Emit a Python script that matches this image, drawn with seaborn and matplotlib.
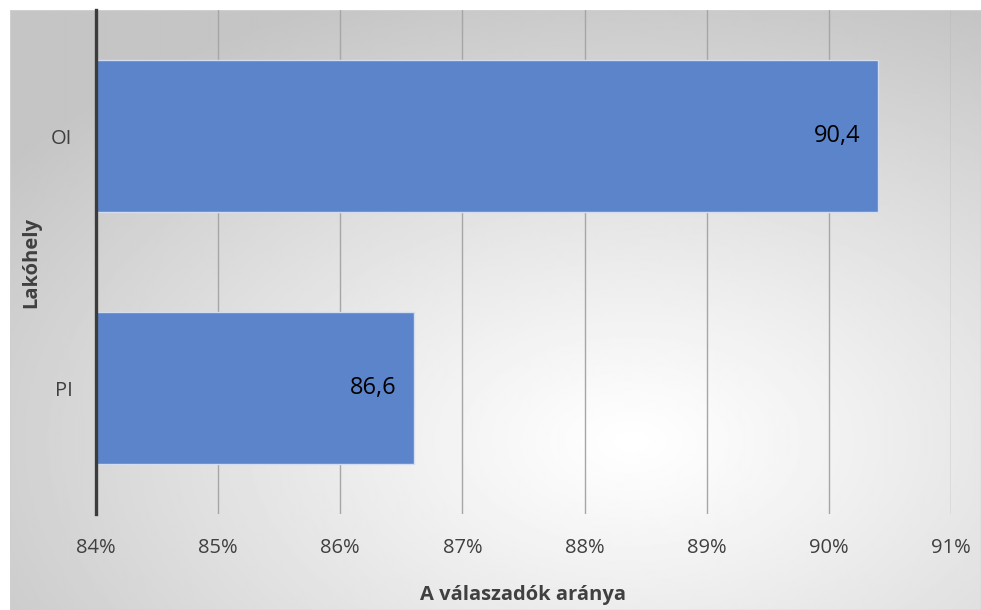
import numpy as np
import matplotlib
matplotlib.use('Agg')
import matplotlib.pyplot as plt
import seaborn as sns
import pandas as pd
from matplotlib.patches import Rectangle

categories = ['OI', 'PI']
values = [90.4, 86.6]
value_labels = ['90,4', '86,6']
xticks = [84, 85, 86, 87, 88, 89, 90, 91]
xtick_labels = ['84%', '85%', '86%', '87%', '88%', '89%', '90%', '91%']
x_title = 'A válaszadók aránya'
y_title = 'Lakóhely'

sns.set_theme(style='white')
plt.rcParams['font.family'] = ['Open Sans', 'DejaVu Sans']

W, H = 981, 610
fig = plt.figure(figsize=(W / 100, H / 100), dpi=100)
fig.patch.set_facecolor('white')

# gradient background
bg = fig.add_axes([10 / W, 0, 1 - 10 / W, 1 - 10 / H], zorder=0)
ny, nx = 300, 485
yy, xx = np.mgrid[0:1:ny * 1j, 0:1:nx * 1j]
d = np.sqrt(((xx - 0.64) * 1.0) ** 2 + ((yy - 0.72) * 1.0) ** 2)
v = 1 - 0.23 * np.clip(d / 0.8, 0, 1) ** 1.1
bg.imshow(v, cmap='gray', vmin=0, vmax=1, aspect='auto', extent=[0, 1, 0, 1], interpolation='bilinear')
bg.set_xlim(0, 1)
bg.set_ylim(0, 1)
bg.axis('off')
bg.add_patch(Rectangle((0, 0), 1, 1, transform=bg.transAxes, fill=False, edgecolor='#cfcfcf', lw=1.0))

ax = fig.add_axes([96 / W, 1 - 514 / H, (951 - 96) / W, (514 - 10) / H], zorder=1)
ax.patch.set_alpha(0)

df = pd.DataFrame({'cat': categories, 'val': values})
sns.barplot(data=df, x='val', y='cat', orient='h', color='#5B84CB', saturation=1,
            width=0.6, edgecolor='#d3ddf0', linewidth=1.0, ax=ax, zorder=3)

ax.set_xlim(84, 91)
ax.set_ylim(1.5, -0.5)
ax.set_xticks(xticks)
ax.set_xticklabels(xtick_labels)
ax.xaxis.grid(True, color='#a6a6a6', lw=1.0, zorder=0)
ax.set_axisbelow(True)
ax.tick_params(axis='x', length=0, pad=17, labelsize=14.5, labelcolor='#404040')
ax.tick_params(axis='y', length=0, pad=17, labelsize=14.5, labelcolor='#404040')

for s in ['top', 'right', 'bottom']:
    ax.spines[s].set_visible(False)
ax.spines['left'].set_color('#3c3c3c')
ax.spines['left'].set_linewidth(2.4)
ax.spines['left'].set_zorder(5)

for i, (val, lab) in enumerate(zip(values, value_labels)):
    ax.text(val - 0.14, i, lab, ha='right', va='center', fontsize=17, color='black', zorder=6)

ax.set_xlabel(x_title, fontsize=14.5, fontweight='bold', color='#404040', labelpad=20)
ax.set_ylabel(y_title, fontsize=14.5, fontweight='bold', color='#404040', labelpad=7)

fig.savefig('out.png', dpi=100)
